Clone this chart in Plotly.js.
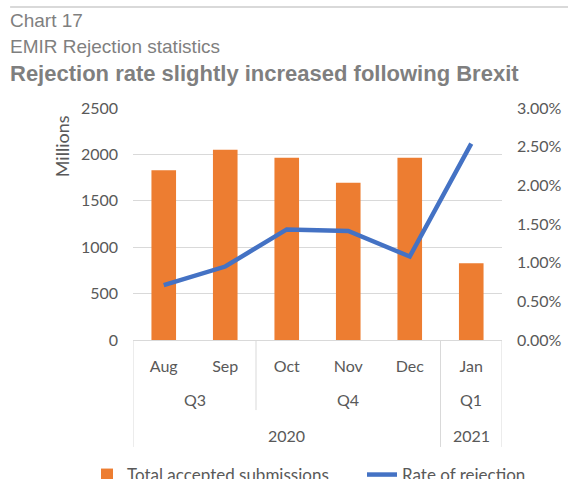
<!DOCTYPE html>
<html>
<head>
<meta charset="utf-8">
<script src="https://cdn.plot.ly/plotly-3.0.1.min.js"></script>
<style>html,body{margin:0;padding:0;background:#fff;}#chart{width:568px;height:479px;}</style>
</head>
<body>
<div id="chart"></div>
<script>
var months = ['Aug', 'Sep', 'Oct', 'Nov', 'Dec', 'Jan'];
var quarters = ['Q3', 'Q3', 'Q4', 'Q4', 'Q4', 'Q1'];
var years = ['2020', '2020', '2020', '2020', '2020', '2021'];
var submissions = [1830, 2050, 1965, 1695, 1965, 826];
var rejectionRate = [0.0071, 0.0095, 0.0143, 0.0141, 0.0108, 0.0254];
var leftTicks = [0, 500, 1000, 1500, 2000, 2500];
var rightTicks = [0, 0.005, 0.01, 0.015, 0.02, 0.025, 0.03];

var labelFont = {family: 'Lato, "Open Sans", sans-serif', size: 16, color: '#595959'};
var titleGrey = '#7f7f7f';

var rowQuarterY = -0.258;
var rowYearY = -0.41;
var quarterDepth = -0.302;
var yearDepth = -0.461;

function groups(arr) {
  var out = [];
  var start = 0;
  for (var i = 1; i <= arr.length; i++) {
    if (i === arr.length || arr[i] !== arr[start]) {
      out.push({label: arr[start], start: start, end: i - 1});
      start = i;
    }
  }
  return out;
}

var annotations = [];
var shapes = [];
groups(quarters).forEach(function (g) {
  annotations.push({xref: 'x', yref: 'paper', x: (g.start + g.end) / 2, y: rowQuarterY,
    text: g.label, showarrow: false, font: labelFont, xanchor: 'center', yanchor: 'middle'});
});
groups(years).forEach(function (g) {
  annotations.push({xref: 'x', yref: 'paper', x: (g.start + g.end) / 2, y: rowYearY,
    text: g.label, showarrow: false, font: labelFont, xanchor: 'center', yanchor: 'middle'});
});
for (var b = 0; b <= months.length; b++) {
  var isEdge = (b === 0 || b === months.length);
  var yearChange = isEdge || years[b] !== years[b - 1];
  var quarterChange = yearChange || quarters[b] !== quarters[b - 1];
  if (quarterChange) {
    shapes.push({type: 'line', xref: 'x', yref: 'paper', x0: b - 0.5, x1: b - 0.5,
      y0: 0, y1: yearChange ? yearDepth : quarterDepth,
      line: {color: '#d9d9d9', width: 1}});
  }
}
// top decorative rule
shapes.push({type: 'line', xref: 'paper', yref: 'paper', x0: -0.333, x1: 1.19, y0: 1.435, y1: 1.435,
  line: {color: '#d9d9d9', width: 2}});

annotations.push({xref: 'paper', yref: 'paper', x: -0.1926, y: 0.835, text: 'Millions', textangle: -90,
  showarrow: false, font: {family: labelFont.family, size: 18, color: '#595959'}, xanchor: 'center', yanchor: 'middle'});
annotations.push({xref: 'paper', yref: 'paper', x: 0, y: 1.379, xshift: -125, text: 'Chart 17',
  showarrow: false, xanchor: 'left', yanchor: 'middle',
  font: {family: '"Liberation Sans", Arial, sans-serif', size: 19, color: titleGrey}});
annotations.push({xref: 'paper', yref: 'paper', x: 0, y: 1.267, xshift: -125, text: 'EMIR Rejection statistics',
  showarrow: false, xanchor: 'left', yanchor: 'middle',
  font: {family: '"Liberation Sans", Arial, sans-serif', size: 19, color: titleGrey}});

var data = [
  {type: 'bar', name: 'Total accepted submissions', x: months, y: submissions,
   marker: {color: '#ED7D31'}, yaxis: 'y', legend: 'legend'},
  {type: 'scatter', mode: 'lines', name: 'Rate of rejection', x: months, y: rejectionRate,
   line: {color: '#4472C4', width: 4.5}, yaxis: 'y2', legend: 'legend2'}
];

var legendFont = {family: labelFont.family, size: 17, color: '#595959'};

var layout = {
  width: 568, height: 479,
  margin: {l: 133, r: 66, t: 108, b: 139},
  paper_bgcolor: '#fff', plot_bgcolor: '#fff',
  bargap: 0.6,
  showlegend: true,
  title: {text: '<b>Rejection rate slightly increased following Brexit</b>',
    font: {family: '"Liberation Sans", Arial, sans-serif', size: 22, color: titleGrey},
    x: 10 / 568, xanchor: 'left', xref: 'container', y: 1 - 73 / 479, yanchor: 'middle', yref: 'container'},
  xaxis: {type: 'category', range: [-0.5, months.length - 0.5], showgrid: false, zeroline: false,
    showline: true, linecolor: '#d9d9d9', linewidth: 1, ticks: '', tickfont: labelFont,
    ticklabelstandoff: 12, fixedrange: true},
  yaxis: {range: [0, 2500], tickvals: leftTicks, showgrid: true, gridcolor: '#d9d9d9', gridwidth: 1,
    zeroline: false, showline: false, ticks: '', tickfont: labelFont, ticklabelstandoff: 14},
  yaxis2: {range: [0, 0.03], tickvals: rightTicks, tickformat: '.2%', overlaying: 'y', side: 'right',
    showgrid: false, zeroline: false, showline: false, ticks: '', tickfont: labelFont, ticklabelstandoff: 14},
  legend: {orientation: 'h', xref: 'container', yref: 'container', x: 87 / 568, xanchor: 'left',
    y: 1 - 475 / 479, yanchor: 'middle', font: legendFont, bgcolor: 'rgba(0,0,0,0)'},
  legend2: {orientation: 'h', xref: 'container', yref: 'container', x: 362 / 568, xanchor: 'left',
    y: 1 - 475 / 479, yanchor: 'middle', font: legendFont, bgcolor: 'rgba(0,0,0,0)'},
  annotations: annotations,
  shapes: shapes
};

Plotly.newPlot('chart', data, layout, {displayModeBar: false, staticPlot: true});
</script>
</body>
</html>
